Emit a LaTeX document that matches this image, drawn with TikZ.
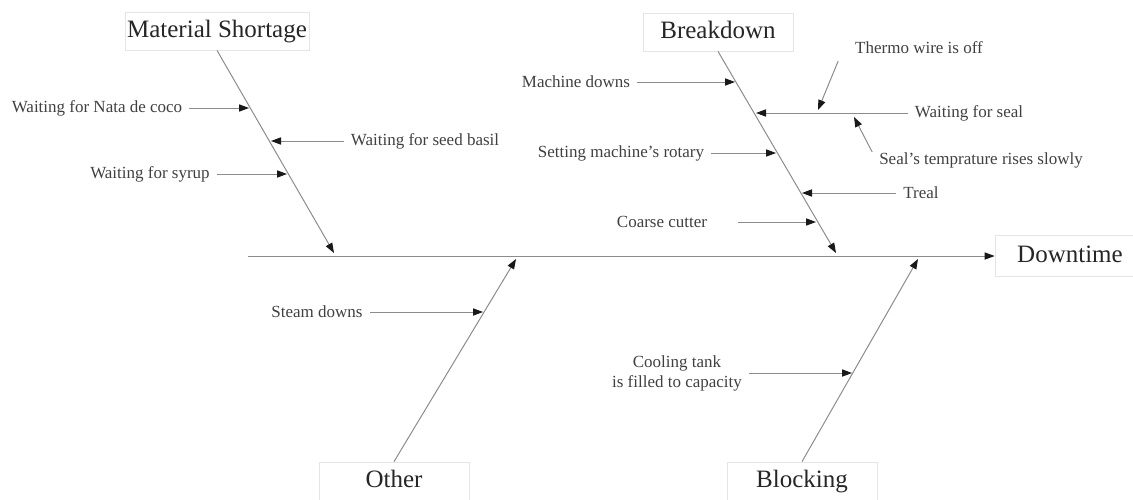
\documentclass[tikz,border=0pt]{standalone}
\usepackage{fontspec}
\setmainfont{Liberation Serif}
\usetikzlibrary{arrows.meta}

\begin{document}
\begin{tikzpicture}[x=0.5pt,y=-0.5pt]
\tikzstyle{cat} = [rectangle, draw=black!10, text=black!85, minimum width=75pt,
minimum height=19pt, inner xsep=1pt, inner ysep=0pt, text height=2ex, text depth=.5ex,
font=\fontsize{12.5}{15}\selectfont]
\tikzstyle{lbl} = [text=black!75, align=center, font=\fontsize{8.5}{10}\selectfont]
\tikzstyle{bone} = [draw=black!45, line width=0.5pt,
-{Triangle[length=5pt,width=3.6pt,color=black!90]}]

\useasboundingbox (0,0) rectangle (1133,499);

% heads
\node [cat] (ms) at (217,31) {Material Shortage};
\node [cat] (bd) at (718,32) {Breakdown};
\node [cat] (ot) at (394,481) {Other};
\node [cat] (bl) at (802,481) {Blocking};
\node [cat, minimum height=20.5pt] (dt) at (1070,256) {Downtime};

% spine and bones
\coordinate (spine) at (248,256);
\coordinate (msTip) at (334,253);
\coordinate (bdTip) at (836,253);
\coordinate (otTip) at (516,259);
\coordinate (blTip) at (918,259);
\draw [bone] (spine) -- (dt);
\draw [bone] (ms.south) -- (msTip);
\draw [bone] (bd.south) -- (bdTip);
\draw [bone] (ot.north) -- (otTip);
\draw [bone] (bl.north) -- (blTip);

% material shortage
\node [lbl] (nata) at (97,108) {Waiting for Nata de coco};
\node [lbl] (basil) at (425,141) {Waiting for seed basil};
\node [lbl] (syrup) at (150,174) {Waiting for syrup};
\coordinate (nataTip) at (249,108);
\coordinate (basilTip) at (271,141);
\coordinate (syrupTip) at (287,174);
\draw [bone] (nata) -- (nataTip);
\draw [bone] (basil) -- (basilTip);
\draw [bone] (syrup) -- (syrupTip);

% breakdown
\node [lbl] (machine) at (576,82) {Machine downs};
\node [lbl] (thermo) at (919,48) {Thermo wire is off};
\node [lbl] (seal) at (969,113) {Waiting for seal};
\node [lbl] (sealtemp) at (981,160) {Seal's temprature rises slowly};
\node [lbl] (rotary) at (621,153) {Setting machine's rotary};
\node [lbl] (treal) at (921,193) {Treal};
\node [lbl] (coarse) at (662,222) {Coarse cutter};
\coordinate (machineTip) at (735,82);
\coordinate (sealTip) at (756,113);
\coordinate (thermoTip) at (818,110);
\coordinate (sealtempTip) at (854,117);
\coordinate (rotaryTip) at (776,153);
\coordinate (trealTip) at (802,193);
\coordinate (coarseTip) at (816,222);
\draw [bone] (machine) -- (machineTip);
\draw [bone] (seal) -- (sealTip);
\draw [bone] ([xshift=-5pt]thermo.south west) -- (thermoTip);
\draw [bone] ([yshift=4pt]sealtemp.west) -- (sealtempTip);
\draw [bone] (rotary) -- (rotaryTip);
\draw [bone] (treal) -- (trealTip);
\draw [bone, shorten <=12pt] (coarse) -- (coarseTip);

% other
\node [lbl] (steam) at (317,312) {Steam downs};
\coordinate (steamTip) at (483,312);
\draw [bone] (steam) -- (steamTip);

% blocking
\node [lbl] (cool) at (677,373) {Cooling tank\\is filled to capacity};
\coordinate (coolTip) at (852,373);
\draw [bone] (cool) -- (coolTip);

\end{tikzpicture}
\end{document}
